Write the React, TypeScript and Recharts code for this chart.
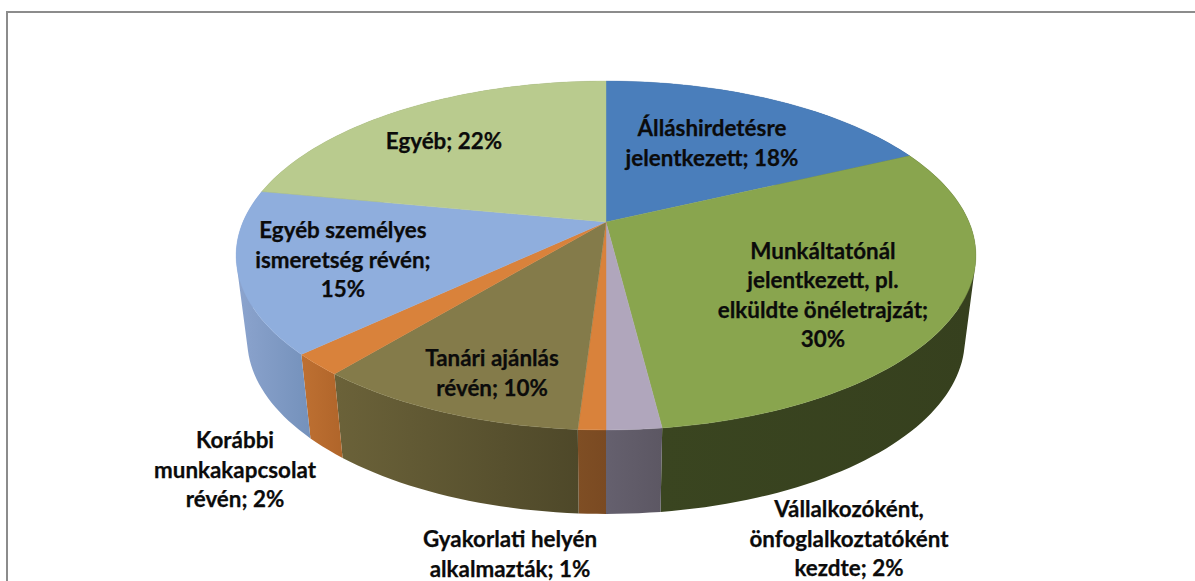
import React from "react";
import { PieChart, Pie } from "recharts";

const names = [
  "Álláshirdetésre jelentkezett",
  "Munkáltatónál jelentkezett, pl. elküldte önéletrajzát",
  "Vállalkozóként, önfoglalkoztatóként kezdte",
  "Gyakorlati helyén alkalmazták",
  "Tanári ajánlás révén",
  "Korábbi munkakapcsolat révén",
  "Egyéb személyes ismeretség révén",
  "Egyéb",
];
const shares = [18, 30, 2, 1, 10, 2, 15, 22];
const topColors = ["#4A7EBB", "#89A54E", "#B0A6BC", "#D9823B", "#847B4A", "#D9823B", "#8FAEDD", "#B9CB8E"];
const wallStart = ["#3A5F90", "#3A4520", "#65606E", "#7F4E24", "#6B6239", "#BE7032", "#8CA4CE", "#8A9A68"];
const wallEnd = ["#2C4870", "#36401E", "#5C5763", "#7A4A22", "#4E4829", "#B0652A", "#7491BB", "#7C8C5C"];
const labelLines = [
  ["Álláshirdetésre", "jelentkezett; 18%"],
  ["Munkáltatónál", "jelentkezett, pl.", "elküldte önéletrajzát;", "30%"],
  ["Vállalkozóként,", "önfoglalkoztatóként", "kezdte; 2%"],
  ["Gyakorlati helyén", "alkalmazták; 1%"],
  ["Tanári ajánlás", "révén; 10%"],
  ["Korábbi", "munkakapcsolat", "révén; 2%"],
  ["Egyéb személyes", "ismeretség révén;", "15%"],
  ["Egyéb; 22%"],
];
// label block centres, relative to the pie's apex
const labelDx = [106, 217, 243, -96, -114, -371, -263, -162];
const labelDy = [-79, 73, 317, 332, 151, 248, 38, -81];

const rows = names.map((name, i) => ({ name, value: shares[i] }));

const CX = 606;
const CY = 222;
const LINE = 29.4;
// perspective projection of the unit circle onto the tilted disc
const SX = 363;
const SY = 168;
const P = 0.192;
const DEPTH = 84;
const SHRINK = 0.97;

const project = (mathAngle: number) => {
  const r = (mathAngle * Math.PI) / 180;
  const u = Math.cos(r);
  const v = Math.sin(r);
  const d = 1 + P * v;
  return { x: (SX * u) / d, y: (SY * v) / d };
};

const arcPoints = (a0: number, a1: number) => {
  const n = Math.max(2, Math.ceil(Math.abs(a1 - a0) / 1.5));
  const out: number[] = [];
  for (let i = 0; i <= n; i++) out.push(a0 + ((a1 - a0) * i) / n);
  return out;
};

const TopShape = (props: any) => {
  const { cx, cy, startAngle, endAngle, index } = props;
  const pts = arcPoints(startAngle, endAngle).map((a) => {
    const p = project(a);
    return `${(cx + p.x).toFixed(2)},${(cy - p.y).toFixed(2)}`;
  });
  const c = topColors[index];
  return <path d={`M${cx},${cy}L${pts.join("L")}Z`} fill={c} stroke={c} strokeWidth={0.4} />;
};

const WallShape = (props: any) => {
  const { cx, cy, startAngle, endAngle, index } = props;
  const angles = arcPoints(startAngle, endAngle);
  const up = angles.map((a) => {
    const p = project(a);
    return [cx + p.x, cy - p.y];
  });
  const low = angles.map((a) => {
    const p = project(a);
    return [cx + p.x * SHRINK, cy - p.y + DEPTH];
  });
  let d = "";
  for (let i = 0; i < up.length - 1; i++) {
    let q = [up[i], up[i + 1], low[i + 1], low[i]];
    let area = 0;
    for (let k = 0; k < 4; k++) {
      const a = q[k];
      const b = q[(k + 1) % 4];
      area += a[0] * b[1] - b[0] * a[1];
    }
    if (area < 0) q = q.slice().reverse();
    d += "M" + q.map((pt) => `${pt[0].toFixed(2)},${pt[1].toFixed(2)}`).join("L") + "Z";
  }
  const id = `wall-${index}`;
  return (
    <g>
      <defs>
        <linearGradient id={id} x1="0" y1="0" x2="1" y2="0">
          <stop offset="0" stopColor={wallStart[index]} />
          <stop offset="1" stopColor={wallEnd[index]} />
        </linearGradient>
      </defs>
      <path d={d} fill={`url(#${id})`} fillRule="nonzero" />
    </g>
  );
};

const SliceLabel = (props: any) => {
  const { cx, cy, index } = props;
  const lines = labelLines[index];
  const x = cx + labelDx[index];
  const yc = cy + labelDy[index];
  const y0 = yc - ((lines.length - 1) * LINE) / 2;
  return (
    <text
      textAnchor="middle"
      fontFamily="Lato, 'Open Sans', sans-serif"
      fontWeight={700}
      fontSize={22.4}
      fill="#0b0b0b"
      stroke="#0b0b0b"
      strokeWidth={0.25}
    >
      {lines.map((t, i) => (
        <tspan key={i} x={x} y={y0 + i * LINE} dy="0.35em">
          {t}
        </tspan>
      ))}
    </text>
  );
};

export default function App() {
  return (
    <div style={{ position: "absolute", left: 0, top: 0, width: 1195, height: 581, background: "#fff", overflow: "hidden" }}>
      <div style={{ position: "absolute", left: 6, top: 11, width: 1189, height: 570, borderLeft: "2px solid #8c8c8c", borderTop: "2px solid #8c8c8c", boxSizing: "border-box" }} />
      <div style={{ position: "absolute", left: 0, top: 0 }}>
        <PieChart width={1195} height={581} margin={{ top: 0, right: 0, bottom: 0, left: 0 }}>
          <Pie
            data={rows}
            dataKey="value"
            nameKey="name"
            cx={CX}
            cy={CY}
            innerRadius={0}
            outerRadius={141}
            startAngle={90}
            endAngle={-270}
            stroke="none"
            shape={WallShape}
            label={false}
            labelLine={false}
            isAnimationActive={false}
          />
          <Pie
            data={rows}
            dataKey="value"
            nameKey="name"
            cx={CX}
            cy={CY}
            innerRadius={0}
            outerRadius={141}
            startAngle={90}
            endAngle={-270}
            stroke="none"
            shape={TopShape}
            label={SliceLabel}
            labelLine={false}
            isAnimationActive={false}
          />
        </PieChart>
      </div>
    </div>
  );
}
